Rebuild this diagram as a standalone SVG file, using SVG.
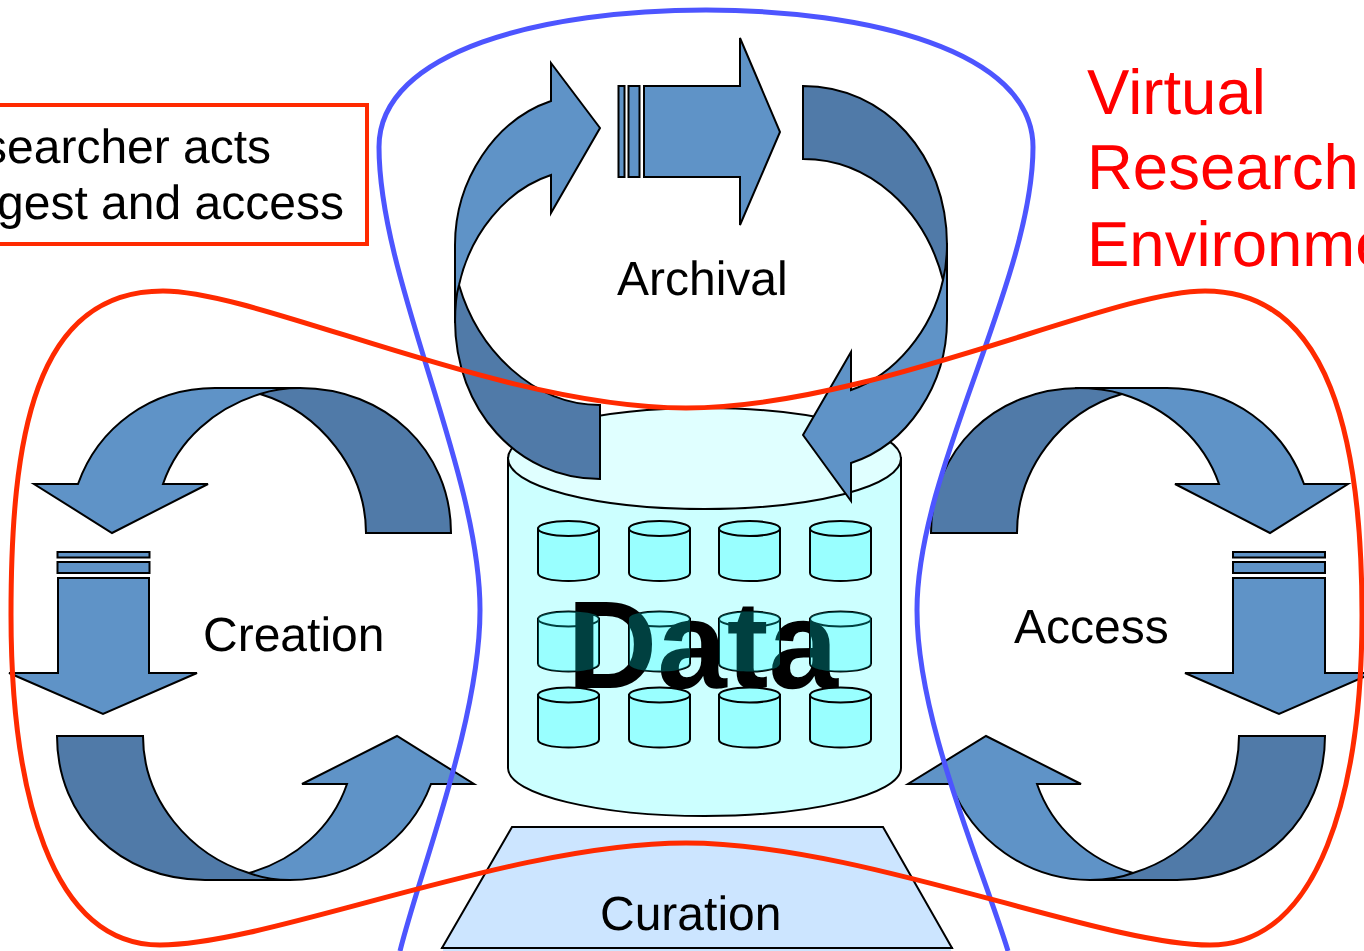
<svg xmlns="http://www.w3.org/2000/svg" width="1364" height="951" viewBox="0 0 1364 951">
<style>
.a{fill:#5f93c7;stroke:#000;stroke-width:2}
.d{fill:#507aa8;stroke:#000;stroke-width:2}
text{font-family:"Liberation Sans",Arial,sans-serif;text-rendering:geometricPrecision}
.t{font-size:48px;fill:#000}
.r{font-size:63.5px;fill:#f00}
.c{fill:#9ff;stroke:#000;stroke-width:2}
.o{fill:#004040;mix-blend-mode:screen}
.l{fill:none;stroke-width:5}
</style>
<defs>
<g id="cyl"><path class="c" d="M0 7.500V52C0 57 14 60 30.500 60S61 57 61 52V7.500Z"/><ellipse class="c" cx="30.500" cy="7.500" rx="30.500" ry="7.500"/></g>
<path id="cylshape" d="M0 7.500C0 2 14 0 30.500 0S61 2 61 7.500V52C61 57 47 60 30.500 60S0 57 0 52Z"/>
</defs>
<rect width="1364" height="951" fill="#fff"/>
<g id="data-store">
<path d="M508 458V768C508 795 600 816 704.500 816S901 795 901 768V458Z" fill="#ccffff" stroke="#000" stroke-width="2"/>
<ellipse cx="704.500" cy="458.500" rx="196.500" ry="50.500" fill="#e0ffff" stroke="#000" stroke-width="2"/>
<use href="#cyl" x="538" y="521"/><use href="#cyl" x="629" y="521"/><use href="#cyl" x="719" y="521"/><use href="#cyl" x="810" y="521"/>
<use href="#cyl" x="538" y="611.500"/><use href="#cyl" x="629" y="611.500"/><use href="#cyl" x="719" y="611.500"/><use href="#cyl" x="810" y="611.500"/>
<text x="567" y="688" font-weight="700" font-size="125" fill="#000">Data</text>
<use href="#cylshape" x="538" y="611.500" class="o"/><use href="#cylshape" x="629" y="611.500" class="o"/><use href="#cylshape" x="719" y="611.500" class="o"/><use href="#cylshape" x="810" y="611.500" class="o"/>
<use href="#cyl" x="538" y="687.500"/><use href="#cyl" x="629" y="687.500"/><use href="#cyl" x="719" y="687.500"/><use href="#cyl" x="810" y="687.500"/>
</g>
<g id="curation">
<rect x="443" y="948" width="508" height="3" fill="#cce5ff"/>
<path d="M512 827H883L952 948H442Z" fill="#cce5ff" stroke="#000" stroke-width="2"/>
<path d="M441 948H953" fill="none" stroke="#000" stroke-width="2"/>
<text class="t" x="600" y="930">Curation</text>
</g>
<g id="archival">
<path class="d" d="M803 86C885 86 947 155 947 245V320C947 300 946 292 943 280C925 210 870 159 803 159Z"/>
<path class="d" d="M600 479C518 479 455 410 455 320V245C455 262 456 275 459 285C478 350 533 405 600 405Z"/>
<path class="a" d="M551 63L600 128L551 213V175C505 190 470 235 459 285C456 295 455 310 455 323V245C455 180 495 120 551 101Z"/>
<path class="a" d="M803 435L851 352V390C895 375 932 330 943 280C946 268 947 255 947 243V320C947 385 907 445 851 463V501Z"/>
<rect class="a" x="618.500" y="86" width="6" height="91"/><rect class="a" x="628.500" y="86" width="11" height="91"/>
<path class="a" d="M644 86H740V38L780 132L740 225V177H644Z"/>
<text class="t" x="617" y="295">Archival</text>
</g>
<g id="creation">
<path class="d" d="M451 533C451 450 385 388 300 388H215C235 388 248 390 260 394C320 412 366 470 366 533Z"/>
<path class="a" d="M34 484H78C98 428 150 388 215 388H300C285 388 272 390 260 394C215 408 178 440 163 484H208L112 533Z"/>
<rect class="a" x="57.500" y="552" width="92" height="5.500"/><rect class="a" x="57.500" y="562" width="92" height="11"/>
<path class="a" d="M58 578H149V673H197L103 714L9 673H58Z"/>
<path class="a" d="M302 784H347C332 828 295 860 249 873C235 877 220 880 205 880H290C355 880 410 840 431 784H474L397 736Z"/>
<path class="d" d="M57 736C57 818 120 880 205 880H290C275 880 262 878 249 873C190 855 143 800 143 736Z"/>
<text class="t" x="203" y="651">Creation</text>
</g>
<g id="access">
<path class="d" d="M931 533C931 450 995 388 1080 388H1160C1147 388 1134 390 1122 394C1060 412 1017 470 1017 533Z"/>
<path class="a" d="M1348 484H1304C1284 428 1232 388 1167 388H1075C1095 388 1110 390 1122 394C1167 408 1204 440 1219 484H1175L1270 533Z"/>
<rect class="a" x="1233" y="552" width="92" height="5.500"/><rect class="a" x="1233" y="562" width="92" height="11"/>
<path class="a" d="M1233 578H1325V673H1373L1279 714L1185 673H1233Z"/>
<path class="a" d="M1081 784H1037C1052 828 1089 860 1133 873C1147 877 1162 880 1177 880H1090C1027 880 972 840 951 784H908L986 736Z"/>
<path class="d" d="M1325 736C1325 818 1262 880 1177 880H1090C1105 880 1120 878 1133 873C1192 855 1239 800 1239 736Z"/>
<text class="t" x="1014" y="643">Access</text>
</g>
<g id="note">
<rect x="-20" y="105" width="387" height="139" fill="#fff" stroke="#ff2a00" stroke-width="4"/>
<text class="t" x="-17" y="163">searcher acts</text>
<text class="t" x="-3" y="219">gest and access</text>
</g>
<g id="environment-label">
<text class="r" x="1087" y="114">Virtual</text>
<text class="r" x="1087" y="189">Research</text>
<text class="r" x="1087" y="266">Environme</text>
</g>
<g id="connectors">
<path class="l" stroke="#4d55ff" d="M400 951C420 870 480 720 480 610C480 470 379 280 379 147C379 50 545 10 706 10C865 10 1033 50 1033 147C1033 280 917 470 917 610C917 720 980 860 1008 951"/>
<path class="l" stroke="#ff2a00" d="M163 291C260 291 500 408 686 408C870 408 1110 291 1205 291C1330 291 1362 440 1362 615C1362 790 1320 945 1210 945C1100 945 860 843 686 843C510 843 270 945 160 945C50 945 11 790 11 615C11 440 33 291 163 291Z"/>
</g>
</svg>
